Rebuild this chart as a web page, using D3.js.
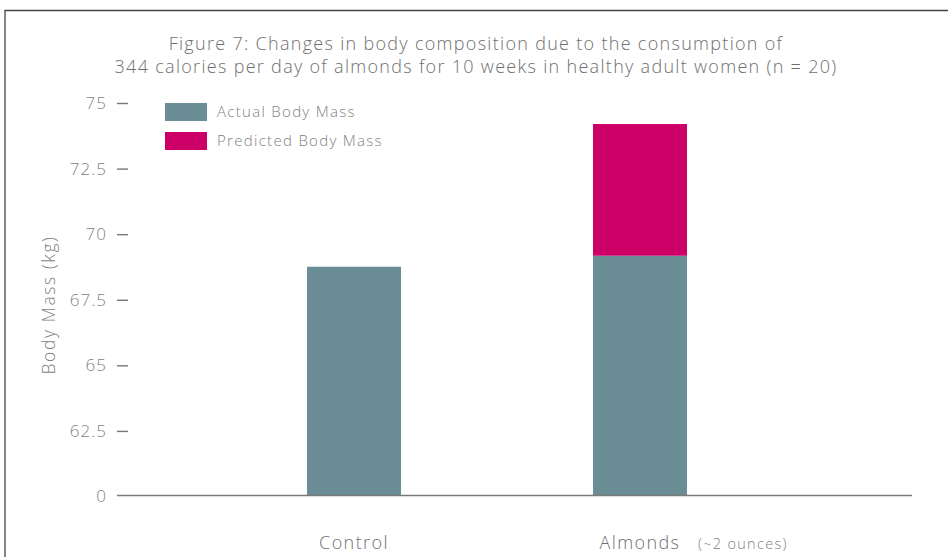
<!DOCTYPE html>
<html>
<head>
<meta charset="utf-8">
<script src="https://cdn.jsdelivr.net/npm/d3@7"></script>
<style>
  html, body { margin: 0; padding: 0; background: #fff; }
  svg { display: block; font-family: "Open Sans", Lato, sans-serif; font-weight: 300; }
</style>
</head>
<body>
<svg id="chart" width="948" height="557"></svg>
<script>
const categories = ["Control", "Almonds"];
const categoryNotes = ["", "(~2 ounces)"];
const actualBodyMass = [68.72, 69.14];
const predictedBodyMass = [null, 74.16];
const seriesNames = ["Actual Body Mass", "Predicted Body Mass"];
const seriesColors = ["#6b8d95", "#cc0066"];
const yTicks = [60, 62.5, 65, 67.5, 70, 72.5, 75];
const yTickLabels = ["0", "62.5", "65", "67.5", "70", "72.5", "75"];
const titleLines = [
  "Figure 7: Changes in body composition due to the consumption of",
  "344 calories per day of almonds for 10 weeks in healthy adult women (n = 20)"
];
const yAxisTitle = "Body Mass (kg)";

const svg = d3.select("#chart");
const textColor = "#7f7f7f";
const FONT = "'Open Sans', Lato, sans-serif";

// frame
svg.append("path")
  .attr("d", "M5,560 L5,10.5 L950,10.5")
  .attr("fill", "none").attr("stroke", "#444").attr("stroke-width", 1.3);

// title
svg.append("g").selectAll("text").data(titleLines).join("text")
  .attr("x", 476).attr("y", (d, i) => 50 + i * 22.5)
  .attr("text-anchor", "middle")
  .attr("font-size", 18).attr("letter-spacing", 1.3).attr("fill", "#6f6f6f")
  .text(d => d);

const y = d3.scaleLinear().domain([60, 75]).range([495.5, 102]);
const x = d3.scaleBand().domain(categories).range([211, 783])
  .paddingInner(0.6713).paddingOuter(0.3357);

// y axis
const yAxis = d3.axisLeft(y).tickValues(yTicks.slice(1))
  .tickFormat(v => yTickLabels[yTicks.indexOf(v)])
  .tickSize(11).tickPadding(10);
const gy = svg.append("g").attr("transform", "translate(128,1)").call(yAxis);
gy.select(".domain").remove();
gy.selectAll(".tick line").attr("stroke", "#777").attr("stroke-width", 1.4);
gy.selectAll(".tick text").attr("fill", textColor).attr("font-size", 17)
  .attr("letter-spacing", 1)
  .attr("font-family", FONT).attr("font-weight", 300);

// zero label
svg.append("text").attr("x", 107).attr("y", y(yTicks[0]) + 1)
  .attr("dy", "0.32em").attr("text-anchor", "end").attr("letter-spacing", 1)
  .attr("fill", textColor).attr("font-size", 17).text(yTickLabels[0]);

// y axis title
svg.append("text")
  .attr("transform", `translate(55,${305}) rotate(-90)`)
  .attr("text-anchor", "middle").attr("font-size", 17.5).attr("letter-spacing", 1.6)
  .attr("fill", textColor)
  .text(yAxisTitle);

// bars
const base = y(60);
svg.append("g").selectAll("rect.actual").data(categories).join("rect")
  .attr("x", d => x(d)).attr("width", x.bandwidth())
  .attr("y", (d, i) => y(actualBodyMass[i]))
  .attr("height", (d, i) => base - y(actualBodyMass[i]))
  .attr("fill", seriesColors[0]);
svg.append("g").selectAll("rect.pred")
  .data(categories.map((c, i) => ({ c, i })).filter(o => predictedBodyMass[o.i] != null))
  .join("rect")
  .attr("x", o => x(o.c)).attr("width", x.bandwidth())
  .attr("y", o => y(predictedBodyMass[o.i]))
  .attr("height", o => y(actualBodyMass[o.i]) - y(predictedBodyMass[o.i]))
  .attr("fill", seriesColors[1]);

// baseline
svg.append("line").attr("x1", 117).attr("x2", 912)
  .attr("y1", base).attr("y2", base)
  .attr("stroke", "#7a7a7a").attr("stroke-width", 1.6);

// x labels
const xl = svg.append("g").selectAll("g").data(categories).join("g");
xl.append("text")
  .attr("x", d => x(d) + x.bandwidth() / 2).attr("y", 549)
  .attr("text-anchor", "middle").attr("font-size", 18).attr("letter-spacing", 1.4)
  .attr("fill", "#6f6f6f")
  .text(d => d);
xl.append("text")
  .attr("x", d => x(d) + x.bandwidth() / 2 + 58).attr("y", 549)
  .attr("font-size", 14.5).attr("letter-spacing", 1.3).attr("fill", textColor)
  .text((d, i) => categoryNotes[i]);

// legend
const lg = svg.append("g").selectAll("g").data(seriesNames).join("g")
  .attr("transform", (d, i) => `translate(165,${103 + i * 29})`);
lg.append("rect").attr("width", 42).attr("height", 18).attr("fill", (d, i) => seriesColors[i]);
lg.append("text").attr("x", 52).attr("y", 9).attr("dy", "0.35em")
  .attr("font-size", 15).attr("letter-spacing", 1.3).attr("fill", textColor).text(d => d);
</script>
</body>
</html>
